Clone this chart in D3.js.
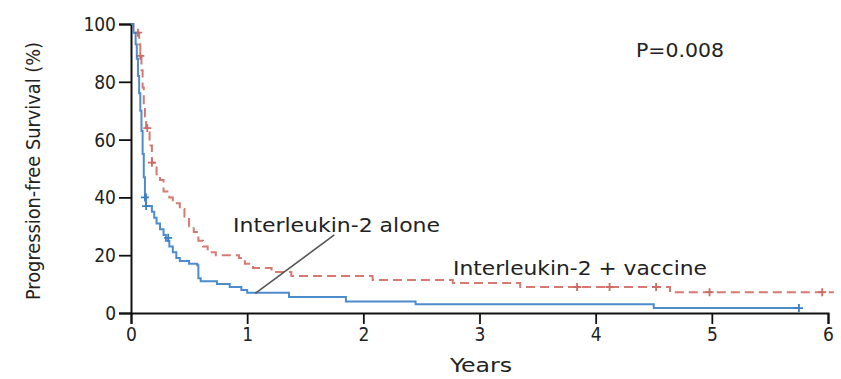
<!DOCTYPE html>
<html>
<head>
<meta charset="utf-8">
<script src="https://cdn.jsdelivr.net/npm/d3@7/dist/d3.min.js"></script>
<style>
  html, body { margin: 0; padding: 0; background: #fff; }
  svg text { font-family: "Liberation Sans Narrow", "DejaVu Sans Condensed", "Liberation Sans", Arial, sans-serif; fill: #222; }
</style>
</head>
<body>
<svg id="chart" width="841" height="379"></svg>
<script>
// Kaplan-Meier progression-free survival, two treatment arms
const xTicks = [0, 1, 2, 3, 4, 5, 6];
const yTicks = [0, 20, 40, 60, 80, 100];

// Interleukin-2 alone: step times (years) and survival (%)
const aloneTime = [0, 0.02, 0.04, 0.05, 0.06, 0.07, 0.08, 0.09, 0.10, 0.11, 0.12, 0.13, 0.18, 0.20, 0.22, 0.25, 0.28, 0.30, 0.33, 0.36, 0.39, 0.42, 0.50, 0.57, 0.58, 0.60, 0.74, 0.85, 0.95, 1.00, 1.36, 1.85, 2.45, 4.50, 5.75];
const aloneSurv = [100, 97, 93, 88, 82, 76, 70, 63, 55, 47, 41, 37, 35, 33, 31, 29, 27, 25, 23, 21, 19, 18, 17, 16.5, 12, 11, 10, 9, 8, 7, 5.5, 4, 3, 1.7, 1.7];
const aloneCensorTime = [0.12, 0.13, 0.32, 5.75];
const aloneCensorSurv = [40, 37, 26, 1.7];

// Interleukin-2 + vaccine
const vaccTime = [0, 0.02, 0.07, 0.08, 0.09, 0.10, 0.11, 0.12, 0.13, 0.16, 0.18, 0.22, 0.25, 0.28, 0.33, 0.36, 0.42, 0.46, 0.50, 0.54, 0.58, 0.62, 0.66, 0.73, 0.93, 0.98, 1.05, 1.21, 1.38, 2.08, 2.77, 3.35, 4.64, 6.05];
const vaccSurv = [100, 97, 93, 89, 84, 78, 72, 68, 64, 58, 52, 48, 46, 42, 40, 38, 36, 33, 30, 28, 25, 23, 21, 20, 19, 17, 15.6, 14.2, 12.8, 11.4, 10.4, 9.0, 7.2, 7.2];
const vaccCensorTime = [0.06, 0.08, 0.14, 0.18, 3.84, 4.12, 4.52, 4.98, 5.95];
const vaccCensorSurv = [97, 89, 64, 52, 9.0, 9.0, 9.0, 7.2, 7.2];

const blue = "#3a80c6";
const red = "#d06a62";

const svg = d3.select("#chart");
const x = d3.scaleLinear().domain([0, 6]).range([131, 828]);
const y = d3.scaleLinear().domain([0, 100]).range([313, 24]);

// axes
const xAxis = svg.append("g").attr("transform", `translate(0,${y(0)})`)
  .call(d3.axisBottom(x).tickValues(xTicks).tickSize(11).tickPadding(4).tickFormat(d3.format("d")));
const yAxis = svg.append("g").attr("transform", `translate(${x(0)},0)`)
  .call(d3.axisLeft(y).tickValues(yTicks).tickSize(12).tickPadding(3).tickFormat(d3.format("d")));
[xAxis, yAxis].forEach(g => {
  g.select(".domain").attr("stroke", "#111").attr("stroke-width", 2);
  g.selectAll(".tick line").attr("stroke", "#111").attr("stroke-width", 1.8);
  g.selectAll(".tick text").attr("font-size", 19).attr("fill", "#222")
    .attr("font-family", "'Liberation Sans Narrow', 'DejaVu Sans Condensed', sans-serif");
});
yAxis.selectAll(".tick text").attr("dy", "0.34em");

const step = d3.line().x(d => x(d[0])).y(d => y(d[1])).curve(d3.curveStepAfter);

function drawArm(times, surv, ct, cs, color, dash) {
  const pts = times.map((t, i) => [t, surv[i]]);
  svg.append("path").datum(pts)
    .attr("d", step)
    .attr("fill", "none")
    .attr("stroke", color)
    .attr("stroke-width", 2)
    .attr("stroke-dasharray", dash)
    .attr("opacity", 0.9);
  const marks = ct.map((t, i) => [t, cs[i]]);
  svg.append("g").selectAll("path").data(marks).enter().append("path")
    .attr("d", d => `M${x(d[0])},${y(d[1]) - 4}V${y(d[1]) + 4}M${x(d[0]) - 4},${y(d[1])}H${x(d[0]) + 4}`)
    .attr("stroke", color)
    .attr("stroke-width", 1.8)
    .attr("fill", "none");
}

drawArm(vaccTime, vaccSurv, vaccCensorTime, vaccCensorSurv, red, "9,5");
drawArm(aloneTime, aloneSurv, aloneCensorTime, aloneCensorSurv, blue, null);

// callout for the interleukin-2 alone curve
svg.append("line")
  .attr("x1", x(1.07)).attr("y1", y(6.8))
  .attr("x2", x(1.75)).attr("y2", y(27))
  .attr("stroke", "#555").attr("stroke-width", 1.6);

function label(txt, px, py, size, len, anchor) {
  const t = svg.append("text").attr("x", px).attr("y", py)
    .attr("font-size", size).attr("text-anchor", anchor || "start").text(txt);
  if (len) t.attr("textLength", len).attr("lengthAdjust", "spacingAndGlyphs");
  return t;
}

label("Interleukin-2 alone", 233, 232, 20, 207);
label("Interleukin-2 + vaccine", 453, 275, 20, 254);
label("P=0.008", 636, 57, 20, 88);
label("Years", 450, 372, 19, 62);

svg.append("text")
  .attr("transform", "translate(40,171) rotate(-90)")
  .attr("text-anchor", "middle")
  .attr("font-size", 19)
  .attr("textLength", 258).attr("lengthAdjust", "spacingAndGlyphs")
  .text("Progression-free Survival (%)");
</script>
</body>
</html>
